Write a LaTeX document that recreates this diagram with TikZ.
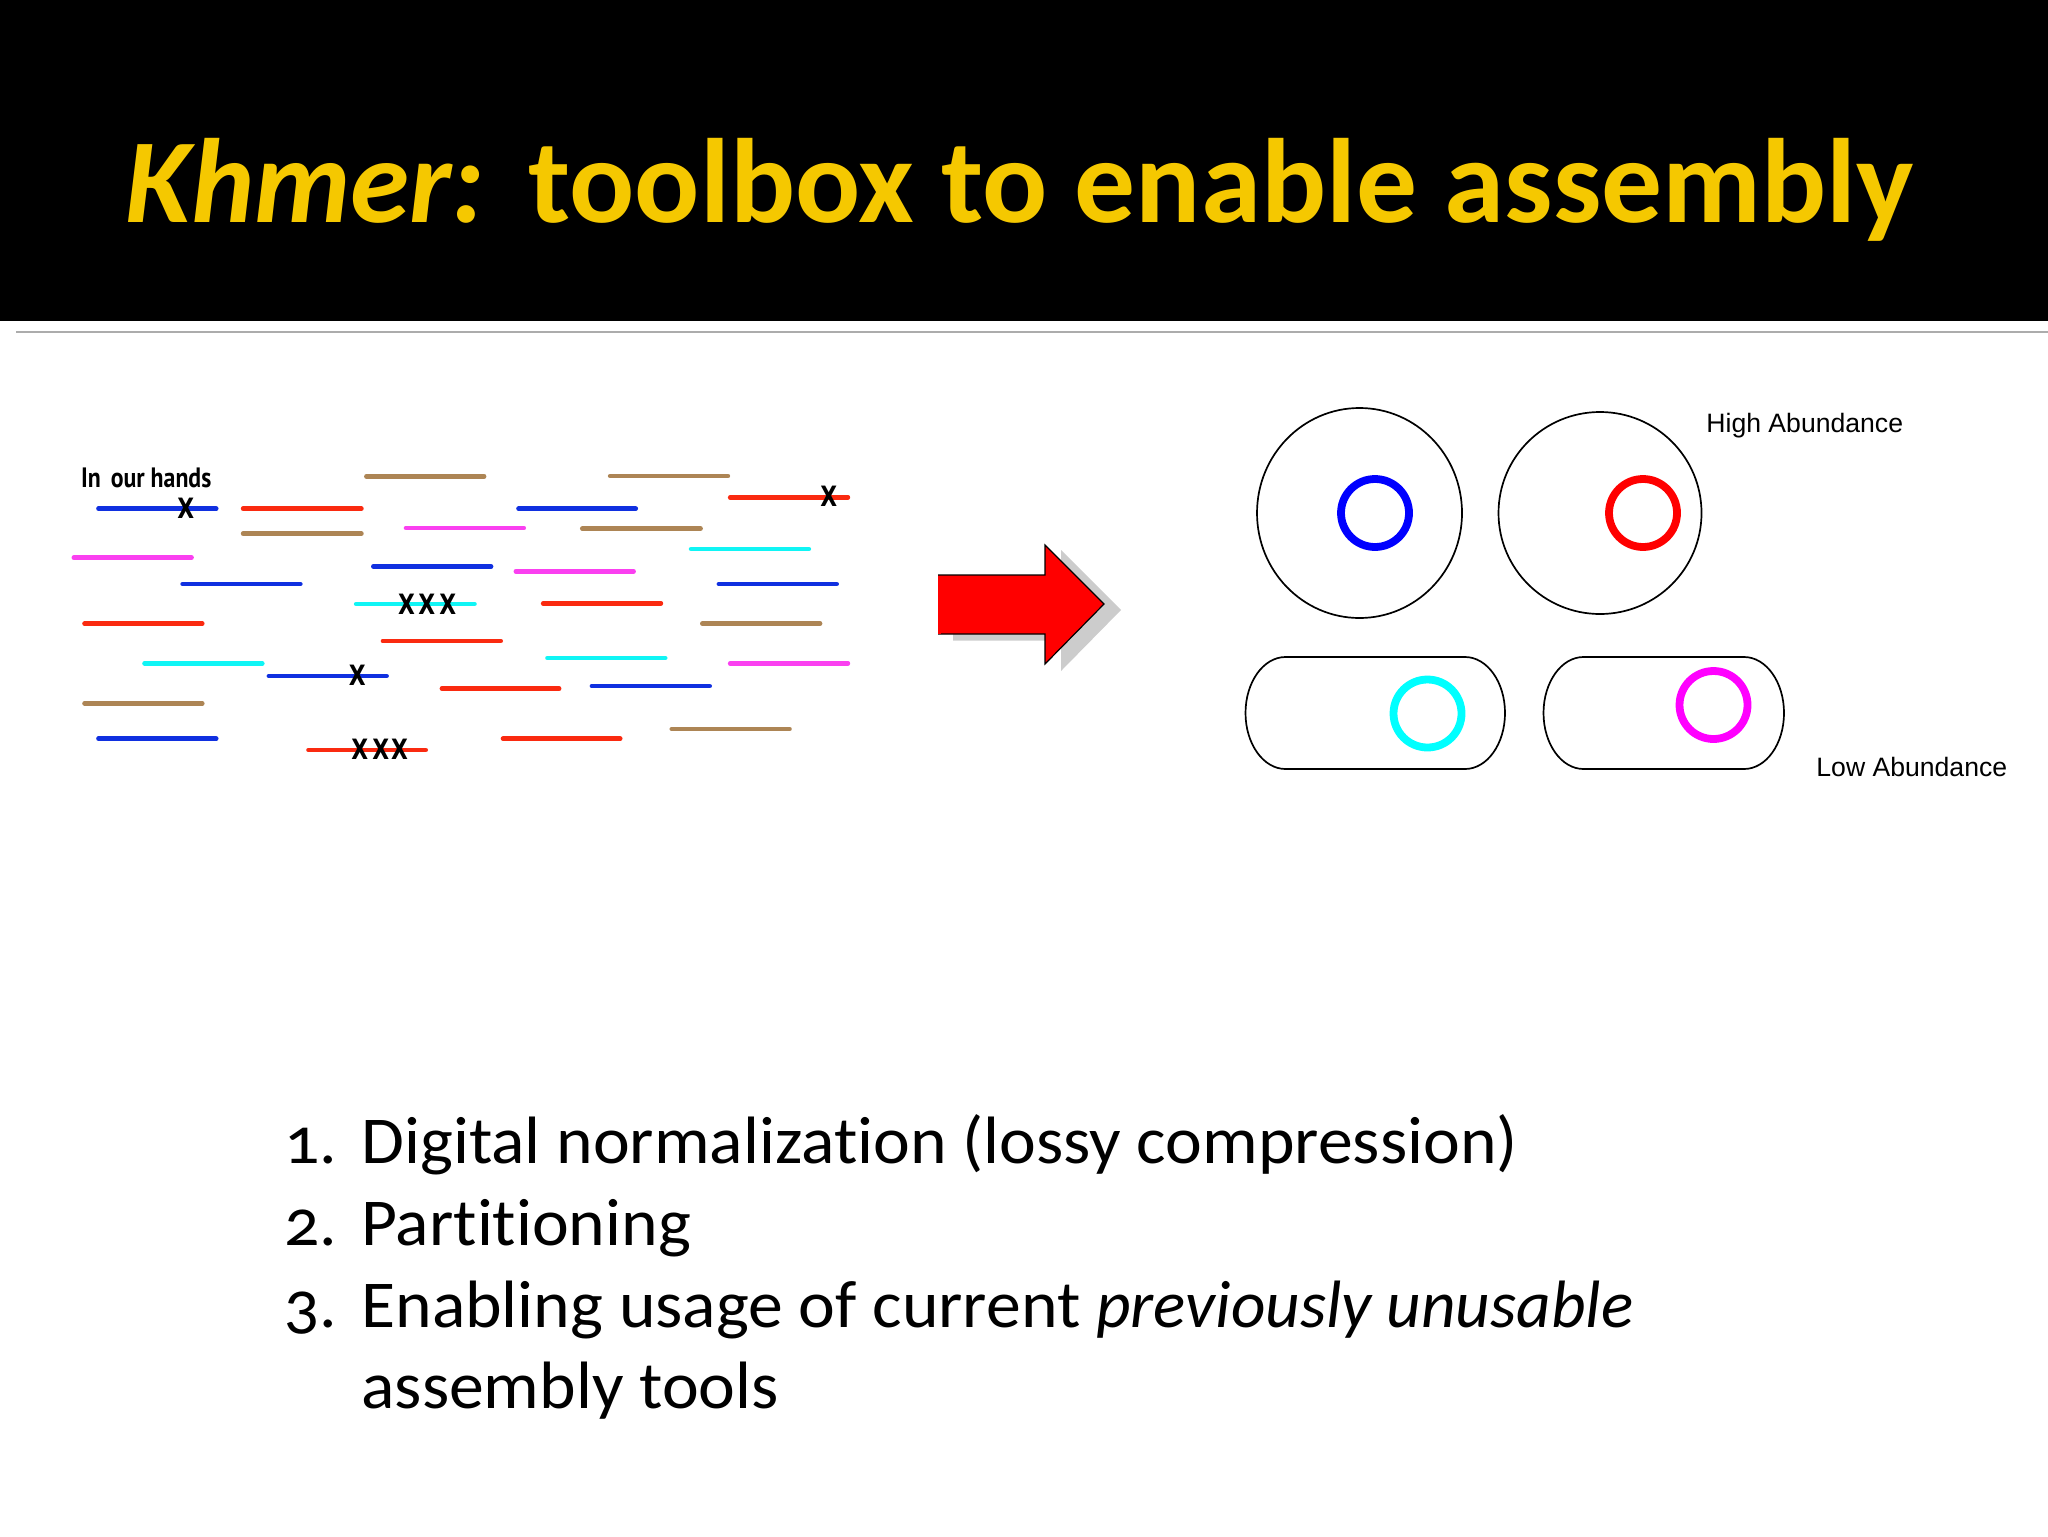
\documentclass[tikz,border=0pt]{standalone}
\usepackage{graphicx}
\usepackage{fontspec}
\setmainfont{Carlito}[Numbers=OldStyle,Ligatures=NoCommon]
\newfontfamily\labelfont{Liberation Sans}
\newfontfamily\handfont{PT Sans}
\newfontfamily\crossfont{DejaVu Sans}
\definecolor{tbrown}{HTML}{AD8555}
\definecolor{tblue}{HTML}{1030E0}
\definecolor{tred}{HTML}{FA2A10}
\definecolor{tmag}{HTML}{FA40F0}
\definecolor{tcyan}{HTML}{10F5F5}
\definecolor{gold}{HTML}{F5C800}
\definecolor{ringcyan}{HTML}{00FFFF}
\definecolor{ringmag}{HTML}{FF00FF}
\definecolor{ringblue}{HTML}{0000FF}
\definecolor{ringred}{HTML}{FF0000}
\tikzset{
  read/.style={line width=2.3pt,line cap=round,shorten >=1.1pt,shorten <=1.1pt},
  xmark/.style={inner sep=0pt,font=\crossfont\bfseries\fontsize{14}{14}\selectfont,xscale=0.78},
  bodytext/.style={inner sep=0pt,anchor=base west,xscale=1.04,font=\fontsize{33.5}{34}\selectfont},
  small/.style={inner sep=0pt,anchor=base west,font=\labelfont\fontsize{13.3}{14}\selectfont},
  titletext/.style={inner sep=0pt,anchor=base west,text=gold,font=\fontsize{60}{60}\selectfont\bfseries},
  ring/.style={line width=3.9pt},
  cell/.style={line width=0.85pt},
}
\begin{document}
\begin{tikzpicture}[x=0.5pt,y=-0.5pt]
\useasboundingbox (0,0) rectangle (2048,1536);
\fill[black] (0,0) rectangle (2048,321);
\draw[gray!65,line width=1.2pt] (16,332) -- (2048,332);
\node[titletext] (title1) at (125,222) {\textit{Khmer:}};
\node[titletext,xscale=1.012] (title2) at (528,222) {toolbox to enable assembly};
\begin{scope}[shift={(40,440)},x=0.2679pt,y=-0.16667pt]
\foreach \a/\b/\c in {605/833/109,1060/1288/108,375/604/281,1008/1237/266,1232/1460/551,79/307/790,1175/1403/867}
  \draw[read,tbrown] (\a,\c) -- (\b,\c);
\foreach \a/\b/\c in {105/333/206,889/1116/206,618/846/379,262/490/432,1263/1491/432,423/651/708,1026/1254/738,105/333/896}
  \draw[read,tblue] (\a,\c) -- (\b,\c);
\foreach \a/\b/\c in {1284/1512/172,375/604/206,935/1163/490,79/307/551,636/864/603,746/973/746,860/1087/896,497/724/930}
  \draw[read,tred] (\a,\c) -- (\b,\c);
\foreach \a/\b/\c in {679/907/264,59/287/353,884/1112/394,1284/1512/670}
  \draw[read,tmag] (\a,\c) -- (\b,\c);
\foreach \a/\b/\c in {1211/1439/327,586/815/492,191/419/670,943/1171/654}
  \draw[read,tcyan] (\a,\c) -- (\b,\c);
\foreach \p/\q [count=\i] in {272/205,1472/170,684/493,722/493,761/493,592/707,597/928,636/928,671/928}
  \node[xmark] (x\i) at (\p,\q) {X};
\node[inner sep=0pt,anchor=base west,xscale=0.85,font=\handfont\bfseries\fontsize{14}{14}\selectfont] (hands) at (76,142) {In\, our hands};
\end{scope}
% arrow
\fill[black!20] (953,581.5) -- (1061,581.5) -- (1061,550) -- (1121,610) -- (1061,671) -- (1061,640.5) -- (953,640.5) -- cycle;
\draw[black,fill=red,line width=0.6pt] (938,575) -- (1045,575) -- (1045,545) -- (1104,604) -- (1045,664) -- (1045,634) -- (938,634);
\fill[red] (938,575.5) rectangle (941,633.5);
% cells
\draw[cell] (1359.5,513) ellipse [x radius=102.5,y radius=105];
\draw[cell] (1600,513) ellipse [x radius=101.5,y radius=101];
\draw[cell] (1285.5,657) -- (1465,657) arc[start angle=-90,end angle=0,x radius=40,y radius=56] arc[start angle=0,end angle=90,x radius=40,y radius=56] -- (1285.5,769) arc[start angle=90,end angle=180,x radius=40,y radius=56] arc[start angle=180,end angle=270,x radius=40,y radius=56] -- cycle;
\draw[cell] (1583.5,657) -- (1744,657) arc[start angle=-90,end angle=0,x radius=40,y radius=56] arc[start angle=0,end angle=90,x radius=40,y radius=56] -- (1583.5,769) arc[start angle=90,end angle=180,x radius=40,y radius=56] arc[start angle=180,end angle=270,x radius=40,y radius=56] -- cycle;
\draw[ring,ringblue] (1375,513) circle [radius=34];
\draw[ring,ringred] (1643,513) circle [radius=34];
\draw[ring,ringcyan] (1427.5,713.5) circle [radius=34];
\draw[ring,ringmag] (1713.5,705) circle [radius=34];
\node[small] (high) at (1706,432) {High Abundance};
\node[small] (low) at (1816,776) {Low Abundance};
% list
\node[bodytext] (n1) at (284,1163) {1.};
\node[bodytext] (t1) at (361,1163) {Digital normalization (lossy compression)};
\node[bodytext] (n2) at (284,1245) {2.};
\node[bodytext] (t2) at (361,1245) {Partitioning};
\node[bodytext] (n3) at (284,1327) {3.};
\node[bodytext] (t3) at (361,1327) {Enabling usage of current \scalebox{0.965}[1]{\textit{previously unusable}}};
\node[bodytext] (t4) at (361,1408) {assembly tools};
\end{tikzpicture}
\end{document}
